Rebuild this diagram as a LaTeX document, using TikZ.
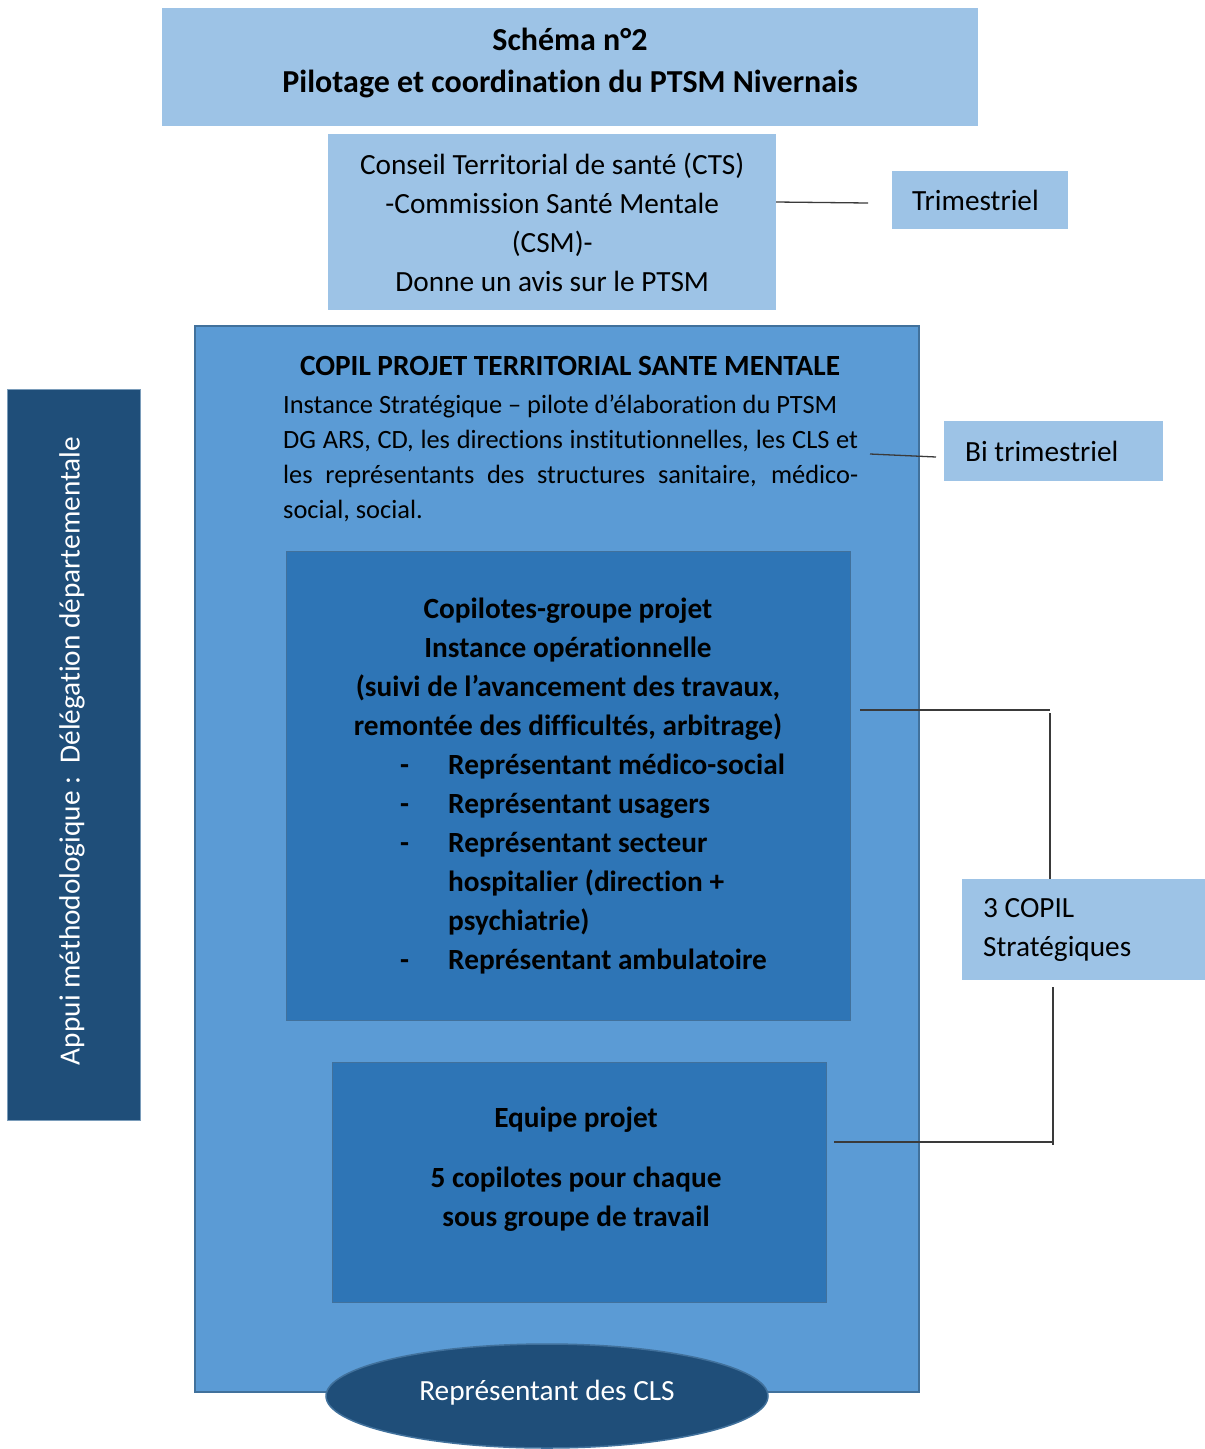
\documentclass[tikz,border=0pt]{standalone}
\usepackage{fontspec}
\setmainfont{Carlito}[Ligatures=NoCommon]
\usetikzlibrary{shapes.geometric}
\definecolor{lightb}{HTML}{9DC3E6}
\definecolor{midb}{HTML}{5B9BD5}
\definecolor{innb}{HTML}{2E75B6}
\definecolor{darkb}{HTML}{1F4E79}
\definecolor{edgeb}{HTML}{41719C}
\definecolor{lineg}{HTML}{3A3A3A}
\begin{document}
\begin{tikzpicture}[x=1pt,y=-1pt,
  txt/.style={font=\fontsize{29.3}{39}\selectfont, inner sep=0pt, align=center},
  btxt/.style={font=\fontsize{29.3}{39}\selectfont\bfseries, inner sep=0pt, align=center},
  boxbase/.style={inner sep=0pt, anchor=north west},
  lbox/.style={boxbase, fill=lightb, draw=none},
  sidebox/.style={lbox, font=\fontsize{29.3}{39}\selectfont, align=flush left, inner ysep=0pt},
  copilbox/.style={boxbase, fill=midb, draw=edgeb, line width=2pt},
  ibox/.style={boxbase, fill=innb, draw=edgeb, line width=1.2pt},
  dbox/.style={boxbase, fill=darkb, draw=edgeb!70!white, line width=0.8pt},
  ell/.style={ellipse, fill=darkb, draw=edgeb, line width=1.5pt, inner sep=0pt},
  conn/.style={draw=lineg, line width=1.3pt}
]
\useasboundingbox (0,0) rectangle (1205,1449);

% title
\node[lbox, minimum width=816, minimum height=118] (title) at (162,8) {};
\node[btxt, font=\fontsize{32}{42}\selectfont\bfseries] (titletxt) at (570,63) {Schéma n°2\\Pilotage et coordination du PTSM Nivernais};

% CTS
\node[lbox, minimum width=448, minimum height=176, txt] (cts) at (328,134) {Conseil Territorial de santé (CTS)\\-Commission Santé Mentale\\(CSM)-\\Donne un avis sur le PTSM};

% Trimestriel
\node[sidebox, minimum width=176, minimum height=58, inner xsep=20pt, text width=136pt] (trim) at (892,171) {Trimestriel};

% left vertical box
\node[dbox, minimum width=133, minimum height=731] (appui) at (7,389) {};
\node[txt, text=white, rotate=90] (appuitxt) at (72,751) {Appui méthodologique :\ \ Délégation départementale};

% COPIL big box
\node[copilbox, minimum width=724, minimum height=1066] (copil) at (194,325) {};
\node[btxt] (copiltitle) at (570,366) {COPIL PROJET TERRITORIAL SANTE MENTALE};
\node[txt, anchor=west, text width=575pt, align=justify, font=\fontsize{26.4}{35}\selectfont] (copilbody) at (283,458) {Instance Stratégique – pilote d’élaboration du PTSM\\ DG ARS, CD, les directions institutionnelles, les CLS et\linebreak les représentants des structures sanitaire, médico-\linebreak social, social.};

% Bi trimestriel
\node[sidebox, minimum width=219, minimum height=60, inner xsep=21pt, text width=177pt] (bitrim) at (944,421) {Bi trimestriel};

% Copilotes box
\node[ibox, minimum width=564, minimum height=469] (copilotes) at (286,551) {};
\node[btxt] (coptxt) at (568,669) {Copilotes-groupe projet\\Instance opérationnelle\\(suivi de l’avancement des travaux,\\remontée des difficultés, arbitrage)};
\node[btxt, anchor=west, align=left] (coplist) at (400,864) {\begin{tabular}{@{}p{48pt}@{}l@{}}
-& Représentant médico-social\\
-& Représentant usagers\\
-& Représentant secteur\\
 & hospitalier (direction +\\
 & psychiatrie)\\
-& Représentant ambulatoire
\end{tabular}};

% Equipe projet
\node[ibox, minimum width=494, minimum height=240] (equipe) at (332,1062) {};
\node[btxt] (equipetxt) at (576,1169) {Equipe projet\\[21pt]5 copilotes pour chaque\\sous groupe de travail};

% ellipse
\node[ell, minimum width=442, minimum height=104] (cls) at (547,1396) {};
\node[txt, text=white] (clstxt) at (547,1393) {Représentant des CLS};

% 3 COPIL
\node[sidebox, minimum width=243, minimum height=101, inner xsep=21pt, text width=201pt] (trois) at (962,879) {3 COPIL\\Stratégiques};

% connectors
\coordinate (c1a) at (776,202);
\coordinate (c1b) at (868,203);
\draw[conn] (c1a) -- (c1b);
\coordinate (c2a) at (870,454);
\coordinate (c2b) at (936,457);
\draw[conn] (c2a) -- (c2b);
\coordinate (c3a) at (860,710);
\coordinate (c3b) at (1050,710);
\coordinate (c3c) at (1050,879);
\draw[conn] (c3a) -- (c3b);
\draw[conn] ([yshift=-3pt]c3b) -- (c3c);
\coordinate (c4a) at (834,1142);
\coordinate (c4b) at (1053,1142);
\coordinate (c4c) at (1053,987);
\draw[conn] (c4a) -- (c4b);
\draw[conn] (c4c) -- ([yshift=-3pt]c4b);
\end{tikzpicture}
\end{document}
